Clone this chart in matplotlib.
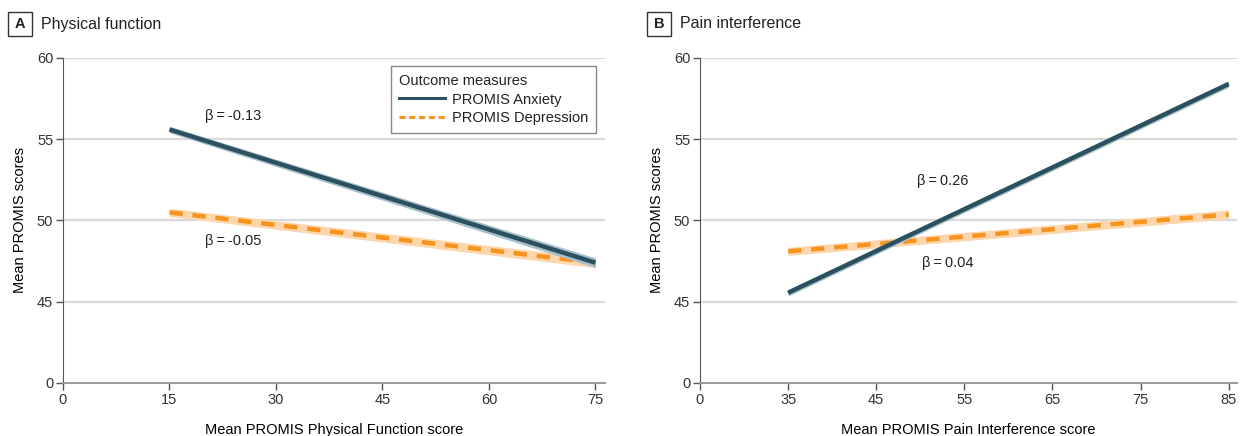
import matplotlib.pyplot as plt
import matplotlib.patches as mpatches
from matplotlib.lines import Line2D

plt.rcParams['font.family'] = ['Liberation Sans', 'DejaVu Sans']
plt.rcParams['font.size'] = 10
plt.rcParams['text.color'] = '#222222'

#%% data
# Panel A: physical function
pf_x = [15, 75]
pf_anx = [55.6, 47.4]
pf_anx_lo = [55.4, 47.1]
pf_anx_hi = [55.8, 47.7]
pf_dep = [50.5, 47.4]
pf_dep_lo = [50.25, 47.1]
pf_dep_hi = [50.75, 47.7]

# Panel B: pain interference
pi_x = [35, 85]
pi_anx = [45.55, 58.4]
pi_anx_lo = [45.35, 58.2]
pi_anx_hi = [45.75, 58.6]
pi_dep = [48.1, 50.37]
pi_dep_lo = [47.85, 50.1]
pi_dep_hi = [48.35, 50.65]

y_ticks = [40, 45, 50, 55, 60]
y_labels = ['0', '45', '50', '55', '60']

pf_ticks = [0, 15, 30, 45, 60, 75]
pi_ticks = [25, 35, 45, 55, 65, 75, 85]
pi_labels = ['0', '35', '45', '55', '65', '75', '85']

anx_col = '#2b5160'
anx_band = '#a8c0ca'
dep_col = '#f7941d'
dep_band = '#fdd6ae'

FS = 10.5

#%% figure
fig = plt.figure(figsize=(12.44, 4.36), dpi=100)
ax1 = fig.add_axes([0.0506, 0.1216, 0.4355, 0.7454])
ax2 = fig.add_axes([0.5627, 0.1216, 0.4313, 0.7454])


def style_axis(ax):
    ax.set_ylim(40, 60)
    ax.set_yticks(y_ticks)
    ax.set_yticklabels(y_labels)
    for y in y_ticks[1:]:
        ax.axhline(y, color='#d9d9d9', lw=1.6, zorder=0)
    ax.spines['top'].set_visible(False)
    ax.spines['right'].set_visible(False)
    ax.spines['left'].set_color('#555555')
    ax.spines['bottom'].set_color('#9a9a9a')
    ax.spines['bottom'].set_linewidth(1.4)
    ax.tick_params(direction='out', length=5, width=1, color='#555555',
                   labelcolor='#333333', labelsize=FS, pad=2)
    ax.set_ylabel('Mean PROMIS scores', fontsize=FS, labelpad=7)


def draw_lines(ax, x, anx, anx_lo, anx_hi, dep, dep_lo, dep_hi):
    ax.fill_between(x, dep_lo, dep_hi, color=dep_band, lw=0, zorder=2)
    ax.plot(x, dep, color=dep_col, lw=3.2, ls=(0, (3, 2.2)), zorder=3,
            solid_capstyle='butt', dash_capstyle='butt')
    ax.fill_between(x, anx_lo, anx_hi, color=anx_band, lw=0, zorder=4)
    ax.plot(x, anx, color=anx_col, lw=3.2, zorder=5, solid_capstyle='butt')


#%% panel A
style_axis(ax1)
ax1.set_xlim(0, 76.3)
ax1.set_xticks(pf_ticks)
draw_lines(ax1, pf_x, pf_anx, pf_anx_lo, pf_anx_hi, pf_dep, pf_dep_lo, pf_dep_hi)
ax1.set_xlabel('Mean PROMIS Physical Function score', fontsize=FS, labelpad=12)
ax1.text(24, 56.4, 'β\u2009=\u2009-0.13', fontsize=FS, ha='center', va='center')
ax1.text(24, 48.75, 'β\u2009=\u2009-0.05', fontsize=FS, ha='center', va='center')

handles = [Line2D([], [], color=anx_col, lw=2.2),
           Line2D([], [], color=dep_col, lw=2.2, ls=(0, (2, 1.2)))]
leg = ax1.legend(handles, ['PROMIS Anxiety', 'PROMIS Depression'],
                 title='Outcome measures', loc='upper right',
                 bbox_to_anchor=(0.984, 0.975), fancybox=False,
                 edgecolor='#888888', framealpha=1, fontsize=FS,
                 title_fontsize=FS, handlelength=3.2, handletextpad=0.45,
                 borderpad=0.55, labelspacing=0.3, borderaxespad=0)
leg._legend_box.align = 'left'
leg.get_frame().set_linewidth(1)

#%% panel B
style_axis(ax2)
ax2.set_xlim(25, 85.9)
ax2.set_xticks(pi_ticks)
ax2.set_xticklabels(pi_labels)
draw_lines(ax2, pi_x, pi_anx, pi_anx_lo, pi_anx_hi, pi_dep, pi_dep_lo, pi_dep_hi)
ax2.set_xlabel('Mean PROMIS Pain Interference score', fontsize=FS, labelpad=12)
ax2.text(49.6, 52.4, 'β\u2009=\u20090.26', fontsize=FS, ha='left', va='center')
ax2.text(50.2, 47.4, 'β\u2009=\u20090.04', fontsize=FS, ha='left', va='center')

#%% panel headers
for letter, title, xpos in [('A', 'Physical function', 8), ('B', 'Pain interference', 647)]:
    fig.add_artist(mpatches.Rectangle((xpos / 1244, 1 - 36 / 436), 24 / 1244, 24 / 436,
                                      transform=fig.transFigure, fc='white',
                                      ec='#333333', lw=1))
    fig.text((xpos + 12) / 1244, 1 - 24 / 436, letter, fontsize=FS, fontweight='bold',
             ha='center', va='center')
    fig.text((xpos + 33) / 1244, 1 - 24 / 436, title, fontsize=11.5, ha='left', va='center')

fig.savefig('out.png', dpi=100)
